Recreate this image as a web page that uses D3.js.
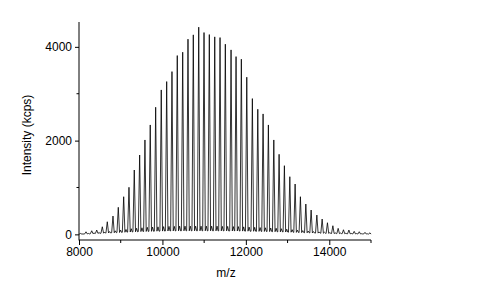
<!DOCTYPE html>
<html>
<head>
<meta charset="utf-8">
<script src="https://cdn.jsdelivr.net/npm/d3@7"></script>
<style>
  body { margin: 0; background: #fff; }
  text { font-family: "Liberation Sans", Arial, sans-serif; fill: #000; }
</style>
</head>
<body>
<div id="chart-area"></div>
<script>
// peak positions (m/z)
const peakMz = [8040, 8168, 8305, 8425, 8559, 8678, 8815, 8942, 9071, 9198,
  9325, 9454, 9581, 9708, 9838, 9972, 10102, 10229, 10356, 10486,
  10613, 10740, 10870, 10997, 11124, 11254, 11381, 11508, 11645, 11765,
  11892, 12022, 12156, 12286, 12413, 12540, 12670, 12797, 12924, 13054,
  13181, 13308, 13438, 13565, 13702, 13829, 13956, 14086, 14213, 14340,
  14470, 14597, 14719, 14856, 14976];
// peak heights (kcps)
const peakHeight = [20, 55, 77, 92, 162, 269, 391, 577, 803, 1004,
  1373, 1693, 2014, 2334, 2712, 3081, 3259, 3472, 3814, 3886,
  4164, 4256, 4420, 4305, 4262, 4213, 4198, 4057, 3935, 3792,
  3737, 3353, 2896, 2669, 2569, 2334, 2014, 1708, 1465, 1230,
  1074, 803, 647, 519, 412, 327, 248, 184, 128, 98,
  92, 64, 56, 43, 34];
// trough level around each peak
const baseHeight = [5, 10, 15, 20, 25, 30, 35, 40, 45, 50,
  55, 60, 62, 65, 68, 70, 72, 74, 75, 76,
  76, 76, 76, 76, 76, 75, 75, 74, 73, 72,
  70, 68, 66, 64, 62, 60, 57, 54, 50, 46,
  42, 38, 34, 30, 27, 24, 21, 18, 16, 14,
  12, 10, 9, 8, 7];
// small shoulder after each peak
const hookHeight = [10, 20, 30, 40, 50, 60, 75, 90, 105, 120,
  130, 140, 150, 155, 160, 165, 170, 170, 175, 175,
  175, 175, 175, 175, 175, 175, 170, 170, 165, 165,
  160, 155, 150, 145, 140, 135, 130, 120, 110, 100,
  90, 80, 70, 60, 52, 45, 38, 32, 28, 24,
  20, 17, 14, 12, 10];

const xTicks = [8000, 10000, 12000, 14000];
const xMinor = [9000, 11000, 13000, 15000];
const yTicks = [0, 2000, 4000];
const yMinor = [1000, 3000];

const width = 501, height = 290;
const svg = d3.select('#chart-area')
  .append('svg')
  .attr('width', width)
  .attr('height', height);

const x = d3.scaleLinear().domain([8000, 15000]).range([79, 371]);
const y = d3.scaleLinear().domain([-120, 4530]).range([240, 22]);

// build the trace: trough, spike, trough, shoulder, trough for each peak
const trace = [[8000, 0]];
peakMz.forEach((m, i) => {
  const b = baseHeight[i];
  trace.push([m - 32, b]);
  trace.push([m, peakHeight[i]]);
  trace.push([m + 30, b]);
  trace.push([m + 56, hookHeight[i]]);
  trace.push([m + 80, b]);
});
trace.push([15000, 5]);

const line = d3.line()
  .x(d => x(d[0]))
  .y(d => y(d[1]));

svg.append('path')
  .datum(trace.filter(d => d[0] >= 8000 && d[0] <= 15000))
  .attr('fill', 'none')
  .attr('stroke', '#000')
  .attr('stroke-width', 0.8)
  .attr('stroke-linejoin', 'round')
  .attr('d', line);

// x axis
const xAxis = svg.append('g')
  .attr('transform', 'translate(0,240)')
  .call(d3.axisBottom(x).tickValues(xTicks).tickFormat(d3.format('d')).tickSize(4).tickPadding(3));
xAxis.selectAll('.tick line').attr('y2', 5);
xAxis.append('g').selectAll('line')
  .data(xMinor)
  .enter()
  .append('line')
  .attr('x1', d => x(d)).attr('x2', d => x(d))
  .attr('y1', 0).attr('y2', 3)
  .attr('stroke', '#000');

// y axis
const yAxis = svg.append('g')
  .attr('transform', 'translate(79,0)')
  .call(d3.axisLeft(y).tickValues(yTicks).tickFormat(d3.format('d')).tickSize(4).tickPadding(3));
yAxis.append('g').selectAll('line')
  .data(yMinor)
  .enter()
  .append('line')
  .attr('x1', 0).attr('x2', -2.5)
  .attr('y1', d => y(d)).attr('y2', d => y(d))
  .attr('stroke', '#000');

svg.selectAll('.domain').attr('d', null);
svg.selectAll('.tick text').attr('font-size', '12px').attr('font-family', '"Liberation Sans", Arial, sans-serif');

// axis lines
svg.append('line')
  .attr('x1', 79).attr('x2', 79).attr('y1', 22).attr('y2', 240.5)
  .attr('stroke', '#000');
svg.append('line')
  .attr('x1', 79).attr('x2', 371).attr('y1', 240).attr('y2', 240)
  .attr('stroke', '#000');

// labels
svg.append('text')
  .attr('x', 226)
  .attr('y', 277)
  .attr('font-size', '12px')
  .attr('text-anchor', 'middle')
  .text('m/z');

svg.append('text')
  .attr('x', -135)
  .attr('y', 31)
  .attr('font-size', '12px')
  .attr('text-anchor', 'middle')
  .attr('transform', 'rotate(-90)')
  .text('Intensity (kcps)');
</script>
</body>
</html>
